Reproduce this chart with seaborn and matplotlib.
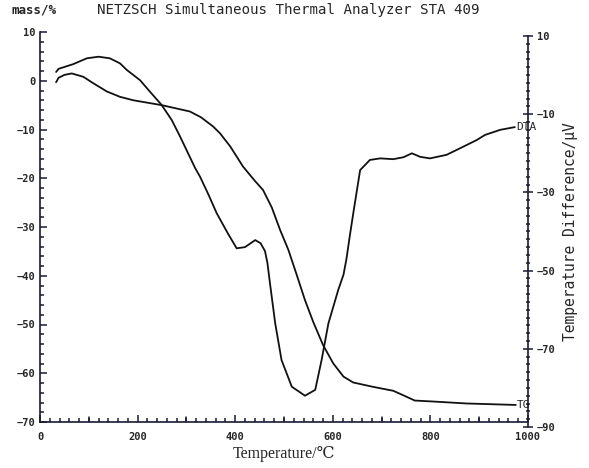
import matplotlib
matplotlib.use("Agg")
import matplotlib.pyplot as plt
import numpy as np
import pandas as pd
import seaborn as sns
from matplotlib.ticker import MultipleLocator, FixedLocator

# TG curve, mass in % (left axis)
tg_temp = [33, 38, 50, 65, 89, 109, 137, 164, 191, 249, 307, 330, 355, 369, 390,
           416, 440, 457, 475, 492, 509, 526, 543, 560, 580, 601, 622, 642, 683,
           724, 744, 768, 806, 874, 975]
tg_mass = [-0.3, 0.6, 1.2, 1.5, 0.8, -0.5, -2.2, -3.3, -4.0, -5.0, -6.3, -7.5,
           -9.4, -10.8, -13.5, -17.6, -20.5, -22.4, -26.0, -30.6, -34.7, -39.8,
           -45.0, -49.5, -54.2, -58.0, -60.7, -61.9, -62.8, -63.6, -64.5, -65.6,
           -65.8, -66.2, -66.5]

# DTA curve, temperature difference in uV (right axis)
dta_temp = [33, 38, 48, 68, 96, 120, 143, 164, 178, 205, 225, 249, 270, 287, 318,
            328, 345, 362, 385, 403, 420, 441, 452, 461, 466, 471, 482, 495, 516,
            543, 564, 577, 591, 611, 622, 628, 635, 642, 656, 676, 697, 724, 745,
            762, 779, 799, 833, 861, 895, 912, 943, 973]
dta_uv = [0.8, 1.6, 2.0, 2.8, 4.3, 4.7, 4.3, 3.0, 1.3, -1.3, -4.2, -7.6, -11.5,
          -15.7, -23.8, -26.0, -30.5, -35.3, -40.5, -44.3, -44.0, -42.2, -43.0,
          -45.0, -48.0, -53.0, -63.5, -72.9, -79.7, -82.0, -80.5, -72.9, -63.5,
          -55.0, -51.0, -47.0, -41.0, -35.3, -24.3, -21.7, -21.3, -21.5, -21.0,
          -20.0, -20.9, -21.3, -20.4, -18.7, -16.6, -15.3, -14.0, -13.3]

# axis ticks
x_ticks = [0, 200, 400, 600, 800, 1000]
right_ticks = [10, -10, -30, -50, -70, -90]

tg = pd.DataFrame({"T": tg_temp, "mass": tg_mass})
dta = pd.DataFrame({"T": dta_temp, "uv": dta_uv})

sns.set_theme(style="white")
plt.rcParams["font.family"] = ["DejaVu Sans Mono"]

ink = "#1a1a33"

fig = plt.figure(figsize=(5.89, 4.68), dpi=100)
ax = fig.add_axes([40 / 589, 1 - 422 / 468, 488 / 589, 390 / 468])
# the plotter drew the DTA scale a few pixels lower than the TG scale
ax2 = fig.add_axes([40 / 589, 1 - 427 / 468, 488 / 589, 391 / 468])
ax2.patch.set_visible(False)

sns.lineplot(data=tg, x="T", y="mass", ax=ax, color="#111111", lw=1.3,
             estimator=None, sort=False)
sns.lineplot(data=dta, x="T", y="uv", ax=ax2, color="#111111", lw=1.3,
             estimator=None, sort=False)

ax.set_xlim(0, 1000)
ax2.set_xlim(0, 1000)
ax.set_ylim(-70, 10)
ax2.set_ylim(-90, 10)

ax.xaxis.set_major_locator(FixedLocator(x_ticks))
ax.xaxis.set_minor_locator(MultipleLocator(20))
ax.yaxis.set_major_locator(MultipleLocator(10))
ax.yaxis.set_minor_locator(MultipleLocator(2))
ax2.yaxis.set_major_locator(FixedLocator(right_ticks))
ax2.yaxis.set_minor_locator(MultipleLocator(2))

# longer ticks every 100 degC
for t in range(100, 1000, 200):
    ax.axvline(t, ymin=0, ymax=0.014, color=ink, lw=1.1)

for s in ax.spines.values():
    s.set_color(ink)
    s.set_linewidth(1.2)
ax.spines["top"].set_visible(False)
ax.spines["right"].set_visible(False)
for side in ("top", "left", "bottom"):
    ax2.spines[side].set_visible(False)
ax2.spines["right"].set_color(ink)
ax2.spines["right"].set_linewidth(1.2)
ax.grid(False)
ax2.grid(False)

ax.tick_params(axis="both", which="both", direction="in", color=ink,
               labelsize=7.5, width=1.1, left=True, bottom=True,
               right=False, top=False)
ax.tick_params(axis="x", which="both", pad=7)
ax.tick_params(axis="y", which="both", pad=3)
ax.tick_params(which="major", length=5)
ax.tick_params(which="minor", length=3)

ax2.yaxis.tick_right()
ax2.yaxis.set_label_position("right")
ax2.tick_params(axis="x", which="both", bottom=False, top=False,
                labelbottom=False)
ax2.tick_params(axis="y", which="both", direction="inout", color=ink,
                labelsize=7.5, pad=3, width=1.1, left=False, right=True,
                labelleft=False, labelright=True)
ax2.tick_params(which="major", length=7)
ax2.tick_params(which="minor", length=3)

for lab in ax.get_xticklabels() + ax.get_yticklabels() + ax2.get_yticklabels():
    lab.set_fontweight("bold")

ax.set_xlabel("Temperature/\u2103",
              family=["Liberation Serif", "DejaVu Serif", "DejaVu Sans"],
              fontsize=11.5, labelpad=3)
ax.set_ylabel("")
ax2.set_xlabel("")
ax2.set_ylabel("Temperature Difference/\u03bcV", fontsize=10.5, labelpad=5)

fig.text(12 / 589, 1 - 10 / 468, "mass/%", fontsize=9, fontweight="bold",
         va="center", ha="left")
fig.text(288 / 589, 1 - 10 / 468, "NETZSCH Simultaneous Thermal Analyzer STA 409",
         fontsize=10.2, va="center", ha="center")

ax.text(tg_temp[-1] + 2, tg_mass[-1], "TG", fontsize=8, va="center", ha="left")
ax2.text(dta_temp[-1] + 2, dta_uv[-1], "DTA", fontsize=8, va="center", ha="left")

fig.savefig("out.png", dpi=100, facecolor="white")
